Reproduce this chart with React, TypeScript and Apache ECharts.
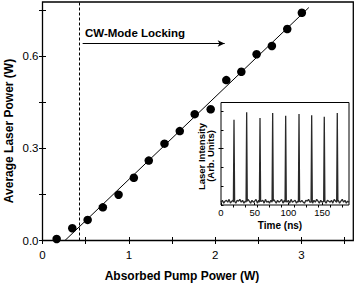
import React, { useEffect, useRef } from "react";
import * as echarts from "echarts";

// Main plot data: absorbed pump power (W) vs average laser power (W)
const pumpPower = [0.164, 0.345, 0.523, 0.699, 0.881, 1.058, 1.231, 1.413, 1.59, 1.763, 1.948, 2.129, 2.303, 2.48, 2.657, 2.835, 3.004];
const laserPower = [0.005, 0.04, 0.067, 0.108, 0.149, 0.204, 0.26, 0.315, 0.356, 0.411, 0.427, 0.522, 0.549, 0.606, 0.633, 0.688, 0.741];
// Linear fit end points
const fitX = [0.26, 3.085];
const fitY = [0, 0.758];
// CW mode-locking threshold and arrow
const thresholdX = 0.434;
const arrowX = [0.465, 2.11];
const arrowY = 0.641;

const xTicks = [0, 0.5, 1, 1.5, 2, 2.5, 3, 3.5];
const xLabels = [0, 1, 2, 3];
const yTicks = [0, 0.15, 0.3, 0.45, 0.6, 0.75];
const yLabels = [0, 0.3, 0.6];

// Inset: pulse train
const peakTimes = [19.3, 38.1, 57.9, 76.7, 96.0, 115.8, 134.6, 153.3, 172.6];
const peakHeights = [0.907, 0.986, 0.925, 0.978, 0.95, 0.968, 0.954, 0.939, 0.978];
const noiseStep = 2;
const noise = [
  0.03, 0.05, 0.02, 0.04, 0.05, 0.03, 0.06, 0.02, 0.04, 0.05,
  0.03, 0.02, 0.05, 0.04, 0.06, 0.03, 0.05, 0.02, 0.04, 0.03,
  0.06, 0.04, 0.02, 0.05, 0.03, 0.04, 0.06, 0.02, 0.05, 0.03,
  0.04, 0.05, 0.02, 0.06, 0.03, 0.04, 0.02, 0.05, 0.03, 0.06,
  0.04, 0.02, 0.05, 0.03, 0.04, 0.06, 0.02, 0.05, 0.04, 0.03,
  0.05, 0.02, 0.06, 0.03, 0.04, 0.05, 0.02, 0.04, 0.06, 0.03,
  0.05, 0.03, 0.02, 0.05, 0.04, 0.06, 0.03, 0.04, 0.02, 0.05,
  0.03, 0.06, 0.04, 0.02, 0.05, 0.03, 0.04, 0.06, 0.02, 0.05,
  0.04, 0.03, 0.05, 0.02, 0.06, 0.04, 0.03, 0.05, 0.02, 0.04,
  0.06, 0.03, 0.05, 0.02, 0.04, 0.03,
];
const insetXLabels = [0, 50, 100, 150];
const insetTopTicks = [18, 36, 54, 72, 90, 108, 126, 144, 162, 180];
const insetYTicks = [0, 0.2, 0.4, 0.6, 0.8, 1.0];
const insetRightTicks = [0.6];

const FONT = '"Liberation Sans", Arial, sans-serif';

function buildTrace(): number[][] {
  const pts: number[][] = [];
  noise.forEach((v, i) => {
    const t = i * noiseStep;
    if (peakTimes.every((p) => Math.abs(p - t) > 1.1)) pts.push([t, v]);
  });
  peakTimes.forEach((p, i) => {
    pts.push([p - 0.9, 0.03]);
    pts.push([p, peakHeights[i]]);
    pts.push([p + 0.9, 0.04]);
  });
  pts.sort((a, b) => a[0] - b[0]);
  return pts;
}

export default function App() {
  const ref = useRef<HTMLDivElement>(null);
  useEffect(() => {
    if (!ref.current) return;
    const chart = echarts.init(ref.current, undefined, { renderer: "svg" });
    const tickStyle = { color: "#000", width: 1 };
    const option: any = {
      animation: false,
      backgroundColor: "#fff",
      textStyle: { fontFamily: FONT },
      grid: [
        { left: 42.5, top: 2, width: 310.8, height: 238.5, show: true, borderColor: "#000", borderWidth: 1.3, backgroundColor: "transparent", containLabel: false, outerBoundsMode: "none" },
        { left: 221, top: 102.5, width: 128, height: 102.5, show: true, borderColor: "#000", borderWidth: 1, backgroundColor: "#fff", containLabel: false, outerBoundsMode: "none", z: 3 },
      ],
      xAxis: [
        {
          gridIndex: 0, type: "value", min: 0, max: 3.6, position: "bottom",
          axisLine: { show: false }, splitLine: { show: false },
          axisTick: { show: true, inside: true, length: 3.5, customValues: xTicks, lineStyle: tickStyle },
          axisLabel: { show: true, customValues: xLabels, margin: 8.5, fontSize: 11.5, color: "#000", fontFamily: FONT, formatter: (v: number) => String(v) },
        },
        {
          gridIndex: 0, type: "value", min: 0, max: 3.6, position: "top",
          axisLine: { show: false }, splitLine: { show: false },
          axisTick: { show: true, inside: true, length: 3.5, customValues: xTicks, lineStyle: tickStyle },
          axisLabel: { show: false },
        },
        {
          gridIndex: 1, type: "value", min: 0, max: 190, position: "bottom", z: 4,
          axisLine: { show: false }, splitLine: { show: false },
          axisTick: { show: true, inside: true, length: 2.5, customValues: insetXLabels, lineStyle: tickStyle },
          axisLabel: { show: true, customValues: insetXLabels, margin: 2.5, fontSize: 9.5, color: "#000", fontFamily: FONT, formatter: (v: number) => String(v) },
        },
        {
          gridIndex: 1, type: "value", min: 0, max: 190, position: "top", z: 4,
          axisLine: { show: false }, splitLine: { show: false },
          axisTick: { show: true, inside: true, length: 2.5, customValues: insetTopTicks, lineStyle: tickStyle },
          axisLabel: { show: false },
        },
      ],
      yAxis: [
        {
          gridIndex: 0, type: "value", min: 0, max: 0.776, position: "left",
          axisLine: { show: false }, splitLine: { show: false },
          axisTick: { show: true, inside: true, length: 3.5, customValues: yTicks, lineStyle: tickStyle },
          axisLabel: { show: true, customValues: yLabels, margin: 4, fontSize: 11.5, color: "#000", fontFamily: FONT, formatter: (v: number) => v.toFixed(1) },
        },
        {
          gridIndex: 0, type: "value", min: 0, max: 0.776, position: "right",
          axisLine: { show: false }, splitLine: { show: false },
          axisTick: { show: true, inside: true, length: 3.5, customValues: yTicks, lineStyle: tickStyle },
          axisLabel: { show: false },
        },
        {
          gridIndex: 1, type: "value", min: 0, max: 1.09, position: "left", z: 4,
          axisLine: { show: false }, splitLine: { show: false },
          axisTick: { show: true, inside: true, length: 2.5, customValues: insetYTicks, lineStyle: tickStyle },
          axisLabel: { show: false },
        },
        {
          gridIndex: 1, type: "value", min: 0, max: 1.09, position: "right", z: 4,
          axisLine: { show: false }, splitLine: { show: false },
          axisTick: { show: true, inside: true, length: 2.5, customValues: insetRightTicks, lineStyle: tickStyle },
          axisLabel: { show: false },
        },
      ],
      series: [
        {
          type: "line", xAxisIndex: 0, yAxisIndex: 0,
          data: [[fitX[0], fitY[0]], [fitX[1], fitY[1]]],
          symbol: "none", lineStyle: { color: "#000", width: 1 },
          silent: true,
          markLine: {
            silent: true, animation: false,
            symbol: ["none", "none"],
            label: { show: false },
            data: [
              { xAxis: thresholdX, lineStyle: { type: [3, 2], color: "#000", width: 1 } },
            ],
          },
        },
        {
          type: "line", xAxisIndex: 0, yAxisIndex: 0,
          data: [],
          symbol: "none",
          silent: true,
          markLine: {
            silent: true, animation: false,
            symbol: ["none", "arrow"],
            symbolSize: [5, 7],
            label: { show: false },
            lineStyle: { type: "solid", color: "#000", width: 1.2 },
            data: [
              [
                { coord: [arrowX[0], arrowY] },
                { coord: [arrowX[1], arrowY] },
              ],
            ],
          },
        },
        {
          type: "scatter", xAxisIndex: 0, yAxisIndex: 0,
          data: pumpPower.map((x, i) => [x, laserPower[i]]),
          symbol: "circle", symbolSize: 8.5, itemStyle: { color: "#000", opacity: 1 },
        },
        {
          type: "line", xAxisIndex: 2, yAxisIndex: 2, z: 5,
          data: buildTrace(), symbol: "none",
          lineStyle: { color: "#2a2a2a", width: 1.3 },
        },
      ],
      graphic: [
        { type: "text", x: 85, y: 32.5, style: { text: "CW-Mode Locking", font: `bold 11.5px ${FONT}`, fill: "#000", verticalAlign: "middle", align: "left" } },
        { type: "text", x: 9, y: 131, rotation: Math.PI / 2, style: { text: "Average Laser Power (W)", font: `bold 12px ${FONT}`, fill: "#000", align: "center", verticalAlign: "middle" } },
        { type: "text", x: 182, y: 276, style: { text: "Absorbed Pump Power (W)", font: `bold 12px ${FONT}`, fill: "#000", align: "center", verticalAlign: "middle" } },
        { type: "text", x: 280, y: 225, z: 10, style: { text: "Time (ns)", font: `bold 10px ${FONT}`, fill: "#000", align: "center", verticalAlign: "middle" } },
        { type: "text", x: 201.5, y: 156.5, z: 10, rotation: Math.PI / 2, style: { text: "Laser Intensity", font: `bold 9.5px ${FONT}`, fill: "#000", align: "center", verticalAlign: "middle" } },
        { type: "text", x: 210.5, y: 156, z: 10, rotation: Math.PI / 2, style: { text: "(Arb. Units)", font: `bold 9.5px ${FONT}`, fill: "#000", align: "center", verticalAlign: "middle" } },
      ],
    };
    chart.setOption(option);
    return () => chart.dispose();
  }, []);
  return <div ref={ref} style={{ position: "fixed", left: 0, top: 0, width: 356, height: 283 }} />;
}
